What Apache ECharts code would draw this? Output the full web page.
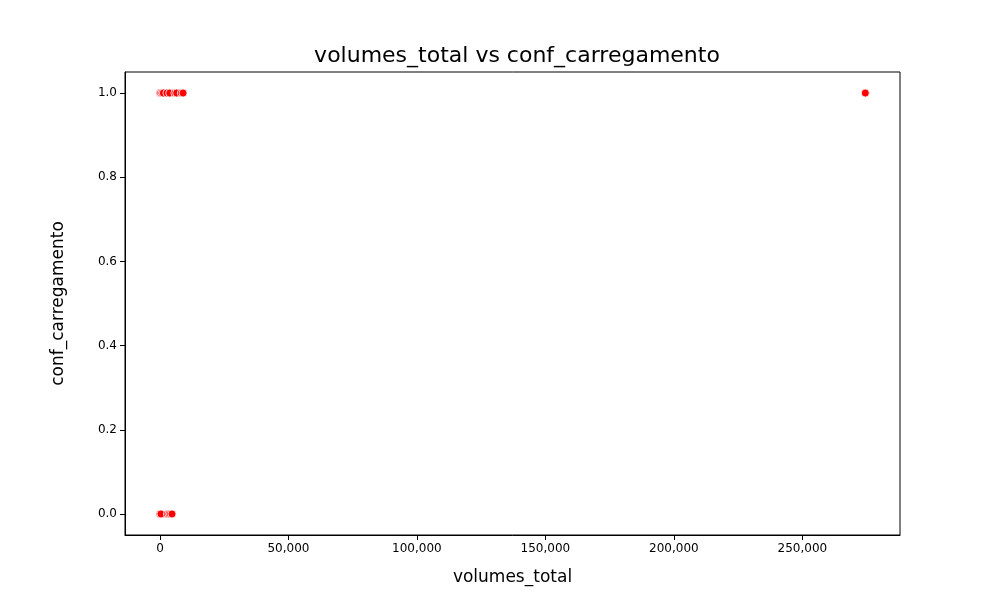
<!DOCTYPE html>
<html><head><meta charset="utf-8">
<script src="https://cdn.jsdelivr.net/npm/echarts@6/dist/echarts.min.js"></script>
<style>body{margin:0}#c{width:1000px;height:600px}</style></head>
<body><div id="c"></div>
<script>
const xOnes = [0, 300, 800, 1300, 2700, 3800, 5800, 6500, 8300, 9000, 274500];
const xZeros = [0, 400, 2900, 3500, 4100, 4700];
const data = xOnes.map(x => [x, 1]).concat(xZeros.map(x => [x, 0]));
const xTicks = [0, 50000, 100000, 150000, 200000, 250000];
const font = 'DejaVu Sans';
const chart = echarts.init(document.getElementById('c'));
chart.setOption({
  animation: false,
  title: {text: 'volumes_total vs conf_carregamento', left: 512, top: 40, textAlign: 'center',
    textStyle: {fontFamily: font, fontSize: 22, fontWeight: 'normal', color: '#000'}},
  grid: {left: 125, right: 100, top: 72, bottom: 65},
  xAxis: {type: 'value', min: -13600, max: 288000, name: 'volumes_total', nameLocation: 'middle', nameGap: 34,
    nameTextStyle: {fontFamily: font, fontSize: 17, color: '#000'},
    axisLine: {show: true, onZero: false, lineStyle: {color: '#000'}},
    axisTick: {show: true, customValues: xTicks, lineStyle: {color: '#000'}},
    axisLabel: {customValues: xTicks, fontFamily: font, fontSize: 12, color: '#000'},
    splitLine: {show: false}},
  yAxis: {type: 'value', min: -0.05, max: 1.05, name: 'conf_carregamento', nameLocation: 'middle', nameGap: 58,
    nameTextStyle: {fontFamily: font, fontSize: 17, color: '#000'},
    axisLine: {show: true, onZero: false, lineStyle: {color: '#000'}},
    axisTick: {show: true, customValues: [0,0.2,0.4,0.6,0.8,1.0], lineStyle: {color: '#000'}},
    axisLabel: {customValues: [0,0.2,0.4,0.6,0.8,1.0], formatter: v => v.toFixed(1), fontFamily: font, fontSize: 12, color: '#000'},
    splitLine: {show: false}},
  series: [{type: 'scatter', data: data, symbolSize: 8,
    itemStyle: {color: '#ff0000', borderColor: '#fff', borderWidth: 0.8, opacity: 1}}]
});
chart.setOption({graphic: [{type: 'rect', shape: {x: 125, y: 72, width: 775, height: 463}, style: {fill: 'none', stroke: '#000', lineWidth: 1}, silent: true}]});
</script></body></html>
